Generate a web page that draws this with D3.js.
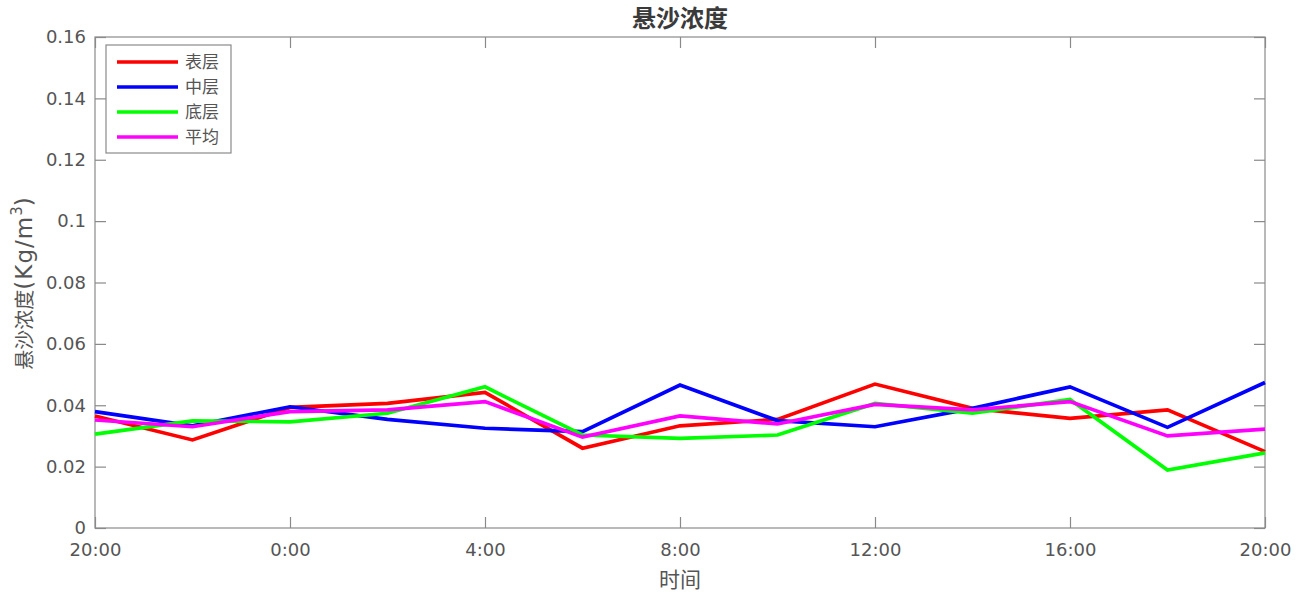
<!DOCTYPE html>
<html><head><meta charset="utf-8">
<script src="https://cdn.jsdelivr.net/npm/d3@7"></script>
<style>body{margin:0;background:#fff;} svg{display:block;}</style>
</head><body>
<svg id="c" width="1303" height="596"></svg>
<script>
const times = ["20:00","22:00","0:00","2:00","4:00","6:00","8:00","10:00","12:00","14:00","16:00","18:00","20:00"];
const tickLabels = ["20:00","0:00","4:00","8:00","12:00","16:00","20:00"];
const yTicks = [0,0.02,0.04,0.06,0.08,0.1,0.12,0.14,0.16];
const surface = [0.0365,0.0287,0.0393,0.0406,0.0442,0.0260,0.0333,0.0354,0.0469,0.0390,0.0357,0.0385,0.0249];
const middle  = [0.0379,0.0333,0.0395,0.0354,0.0325,0.0314,0.0466,0.0350,0.0330,0.0390,0.0460,0.0328,0.0474];
const bottom  = [0.0306,0.0349,0.0346,0.0374,0.0460,0.0303,0.0292,0.0303,0.0406,0.0374,0.0419,0.0189,0.0245];
const average = [0.0352,0.0330,0.0379,0.0385,0.0412,0.0296,0.0365,0.0339,0.0403,0.0385,0.0412,0.0300,0.0322];
const seriesNames = ["表层","中层","底层","平均"];
const seriesColors = ["#ff0000","#0000ff","#00ff00","#ff00ff"];
const seriesData = [surface, middle, bottom, average];

const svg = d3.select("#c");
const L=95, R=1265, T=37, B=528;
const x = d3.scaleLinear().domain([0, 24]).range([L, R]);
const y = d3.scaleLinear().domain([0, 0.16]).range([B, T]);
const hours = times.map((t,i)=>i*2);
const tickHours = tickLabels.map((t,i)=>i*4);
const axisColor = "#8a8a8a", textColor="#555";
const numFont = "'DejaVu Sans', sans-serif";
const cjkFont = "'Noto Sans CJK SC', sans-serif";

// box
svg.append("rect").attr("x",L).attr("y",T).attr("width",R-L).attr("height",B-T)
  .attr("fill","none").attr("stroke",axisColor).attr("stroke-width",1.2);

// axes
const gx = svg.append("g").attr("transform",`translate(0,${B})`)
  .call(d3.axisBottom(x).tickValues(tickHours).tickFormat((d,i)=>tickLabels[i]).tickSizeInner(-11).tickSizeOuter(0).tickPadding(15));
const gxt = svg.append("g").attr("transform",`translate(0,${T})`)
  .call(d3.axisTop(x).tickValues(tickHours).tickFormat("").tickSizeInner(-11).tickSizeOuter(0));
const gy = svg.append("g").attr("transform",`translate(${L},0)`)
  .call(d3.axisLeft(y).tickValues(yTicks).tickFormat(d=>d===0?"0":String(+d.toFixed(2))).tickSizeInner(-11).tickSizeOuter(0).tickPadding(9));
const gyr = svg.append("g").attr("transform",`translate(${R},0)`)
  .call(d3.axisRight(y).tickValues(yTicks).tickFormat("").tickSizeInner(-11).tickSizeOuter(0));
[gx,gxt,gy,gyr].forEach(g=>{
  g.select(".domain").remove();
  g.selectAll(".tick line").attr("stroke",axisColor).attr("stroke-width",1.2);
  g.selectAll("text").attr("fill",textColor).style("font-family",numFont).style("font-size","18px");
});

// lines
const line = d3.line().x((d,i)=>x(hours[i])).y(d=>y(d));
seriesData.forEach((s,k)=>{
  svg.append("path").datum(s).attr("d",line).attr("fill","none")
    .attr("stroke",seriesColors[k]).attr("stroke-width",3.7).attr("stroke-linejoin","miter");
});

// title
svg.append("text").attr("x",(L+R)/2).attr("y",27).attr("text-anchor","middle")
  .style("font-family",cjkFont).style("font-weight","bold").style("font-size","24px").attr("fill","#3a3a3a").text("悬沙浓度");
// x label
svg.append("text").attr("x",(L+R)/2).attr("y",587).attr("text-anchor","middle")
  .style("font-family",cjkFont).style("font-size","21px").attr("fill",textColor).text("时间");
// y label
const yl = svg.append("text").attr("transform",`translate(32,${(T+B)/2 + 1}) rotate(-90)`).attr("text-anchor","middle")
  .attr("fill",textColor);
yl.append("tspan").style("font-family",cjkFont).style("font-size","20px").text("悬沙浓度");
yl.append("tspan").style("font-family",numFont).style("font-size","23px").style("letter-spacing","1px").text("(Kg/m");
yl.append("tspan").style("font-family",numFont).style("font-size","15px").attr("dy",-10).text("3");
yl.append("tspan").style("font-family",numFont).style("font-size","23px").attr("dy",10).text(")");

// legend
const lg = svg.append("g");
lg.append("rect").attr("x",106).attr("y",45).attr("width",125).attr("height",108)
  .attr("fill","#fff").attr("stroke",axisColor).attr("stroke-width",1.2);
seriesNames.forEach((n,k)=>{
  const yy = 62 + k*25;
  lg.append("line").attr("x1",117).attr("x2",178).attr("y1",yy).attr("y2",yy)
    .attr("stroke",seriesColors[k]).attr("stroke-width",3.7);
  lg.append("text").attr("x",185).attr("y",yy+6).style("font-family",cjkFont).style("font-size","17px")
    .attr("fill",textColor).text(n);
});
</script>
</body></html>
